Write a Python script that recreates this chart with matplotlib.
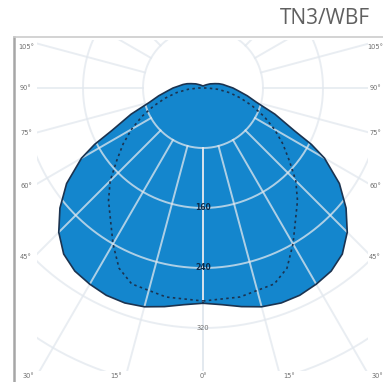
import numpy as np
import matplotlib.pyplot as plt
from matplotlib.transforms import Bbox, TransformedBbox

# luminous intensity (cd/klm), symmetric planes
gamma = [0, 5, 10, 15, 20, 25, 30, 35, 40, 45, 50, 55, 60, 62.5, 65, 70, 75, 80,
         85, 90, 95, 100, 105, 110, 120, 135, 150, 165, 180]
c0_c180 = [287, 290, 296, 302, 305, 305, 302, 298, 289, 272, 249, 222, 187, 163,
           134, 102, 74, 60, 48, 40, 32, 27, 22, 17, 11, 6, 4, 3, 3]
gamma_c90 = [0, 10, 20, 25, 30, 35, 40, 45, 50, 55, 60, 65, 70, 75, 80, 85, 90]
c90_c270 = [284, 283, 278, 265, 240, 215, 196, 175, 150, 130, 110, 90, 70, 52,
            36, 20, 6]

ring_values = [80, 160, 240, 320, 400]
ring_labels = ['160', '240', '320']
angle_grid = list(range(0, 181, 15))

W, H = 383, 382
cx, cy = 203, 88          # pole position in pixels (from top-left)
px_per_cd = 0.75
rmax = 480
rad = rmax * px_per_cd

blue = '#1486cd'
navy = '#1b3350'
grid_col = '#e2e8ee'

fig = plt.figure(figsize=(W / 100, H / 100), dpi=100)

# background axes in pixel units: frame, labels
bg = fig.add_axes([0, 0, 1, 1])
bg.set_xlim(0, W)
bg.set_ylim(H, 0)
bg.axis('off')
bg.plot([14, 14], [37, H + 5], color='#a6a6a6', lw=1.8)
bg.plot([14, W + 5], [37, 37], color='#cccccc', lw=1.2)

lbl = dict(fontsize=4.8, color='#6e6e6e', ha='center', va='center')
left_labels = [('105°', 47), ('90°', 88), ('75°', 133), ('60°', 186), ('45°', 257)]
for t, y in left_labels:
    bg.text(26, y, t, **lbl)
    bg.text(375, y, t, **lbl)
bottom_labels = [('30°', 28), ('15°', 116), ('0°', 203), ('15°', 289), ('30°', 377)]
for t, x in bottom_labels:
    bg.text(x, 376, t, **lbl)

fig.text(370 / W, 1 - 18 / H, 'TN3/WBF', ha='right', va='center', fontsize=15,
         family='Open Sans', color='#606060')

# polar diagram
ax = fig.add_axes([(cx - rad) / W, (H - cy - rad) / H, 2 * rad / W, 2 * rad / H],
                  projection='polar')
ax.set_theta_zero_location('S')
ax.set_ylim(0, rmax)
ax.axis('off')

clip = TransformedBbox(Bbox.from_extents(37 / W, (H - 371) / H, 368 / W, (H - 40) / H),
                       fig.transFigure)

g = np.array(gamma, dtype=float)
th = np.radians(np.concatenate([g, 360 - g[::-1]]))
rr = np.concatenate([c0_c180, c0_c180[::-1]])
ax.fill(th, rr, color=blue, lw=0, zorder=2)

for deg in angle_grid:
    for s in (1, -1):
        ln, = ax.plot([np.radians(s * deg)] * 2, [ring_values[0], rmax],
                      color=grid_col, lw=1.4, alpha=0.75, zorder=3)
        ln.set_clip_box(clip)
circ = np.linspace(0, 2 * np.pi, 361)
for r in ring_values:
    ln, = ax.plot(circ, np.full_like(circ, r), color=grid_col, lw=1.4, alpha=0.75,
                  zorder=3)
    ln.set_clip_box(clip)

ax.plot(th, rr, color=navy, lw=1.2, zorder=4)

g2 = np.array(gamma_c90, dtype=float)
th2 = np.radians(np.concatenate([g2, 360 - g2[::-1]]))
rr2 = np.concatenate([c90_c270, c90_c270[::-1]])
ax.plot(th2, rr2, color=navy, lw=1.2, ls=(0, (1.5, 2)), zorder=4)

for t in ring_labels:
    v = float(t)
    inside = v < 300
    ax.text(0, v, t, fontsize=5.5 if inside else 4.8,
            color='#0c2a48' if inside else '#6e6e6e', ha='center', va='center',
            fontweight='bold' if inside else 'normal', zorder=5)

fig.savefig('out.png', dpi=100)
